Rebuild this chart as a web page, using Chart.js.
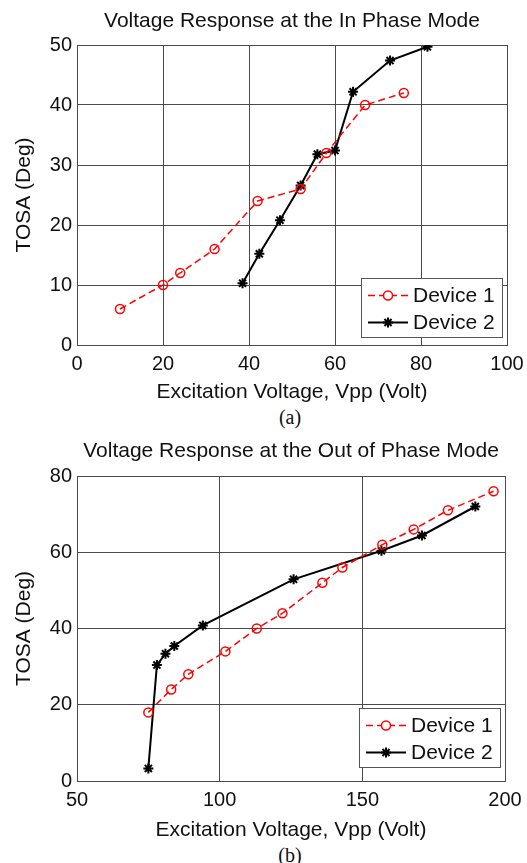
<!DOCTYPE html>
<html>
<head>
<meta charset="utf-8">
<script src="https://cdn.jsdelivr.net/npm/chart.js@4/dist/chart.umd.min.js"></script>
<style>
  html, body { margin: 0; padding: 0; background: #fff; }
  body { width: 527px; height: 863px; position: relative; overflow: hidden; }
  .wrap { position: absolute; left: 0; width: 527px; }
  .cap { position: absolute; left: 0; width: 580px; text-align: center; font-family: "Liberation Serif", "DejaVu Serif", serif; font-size: 20px; color: #111; }
</style>
</head>
<body>
<div class="wrap" style="top:0px;height:405px;"><canvas id="cA" width="527" height="405"></canvas></div>
<div class="cap" style="top:406px;">(a)</div>
<div class="wrap" style="top:430px;height:411px;"><canvas id="cB" width="527" height="411"></canvas></div>
<div class="cap" style="top:844px;">(b)</div>
<script>
// ---- Data: (a) In Phase Mode ----
const titleA = "Voltage Response at the In Phase Mode";
const dev1A_x = [10, 20, 24, 32, 42, 52, 58, 67, 76];
const dev1A_y = [6, 10, 12, 16, 24, 26, 32, 40, 42];
const dev2A_x = [38.5, 42.4, 47.2, 52, 55.9, 60, 64.2, 72.8, 81.5];
const dev2A_y = [10.3, 15.2, 20.8, 26.6, 31.8, 32.4, 42.2, 47.4, 49.7];
const xTicksA = [0, 20, 40, 60, 80, 100];
const yTicksA = [0, 10, 20, 30, 40, 50];

// ---- Data: (b) Out of Phase Mode ----
const titleB = "Voltage Response at the Out of Phase Mode";
const dev1B_x = [75, 83, 89, 102, 113, 122, 136, 143, 157, 168, 180, 196];
const dev1B_y = [18, 24, 28, 34, 40, 44, 52, 56, 62, 66, 71, 76];
const dev2B_x = [75, 78, 81, 84.1, 94.1, 125.9, 156.7, 170.9, 189.6];
const dev2B_y = [3.3, 30.4, 33.4, 35.4, 40.8, 52.9, 60.4, 64.4, 72];
const xTicksB = [50, 100, 150, 200];
const yTicksB = [0, 20, 40, 60, 80];

const seriesNames = ["Device 1", "Device 2"];
const xLabel = "Excitation Voltage, Vpp (Volt)";
const yLabel = "TOSA (Deg)";

const FONT = "'Liberation Sans', Arial, sans-serif";
const GRID = "#4a4a4a";

function pts(xs, ys) { return xs.map((x, i) => ({ x: x, y: ys[i] })); }

const legendBox = {
  id: 'legendBox',
  afterDatasetsDraw(chart, args, opts) {
    const ctx = chart.ctx, ca = chart.chartArea;
    const w = 141, h = 59;
    const x0 = ca.right - opts.dr - w, y0 = ca.bottom - opts.db - h;
    ctx.save();
    ctx.fillStyle = '#fff';
    ctx.fillRect(x0, y0, w, h);
    ctx.strokeStyle = '#555';
    ctx.lineWidth = 1;
    ctx.setLineDash([]);
    ctx.strokeRect(x0 + 0.5, y0 + 0.5, w, h);
    chart.data.datasets.forEach((ds, i) => {
      const cy = y0 + 17.5 + i * 27;
      ctx.save();
      ctx.strokeStyle = ds.borderColor;
      ctx.lineWidth = ds.borderWidth;
      ctx.setLineDash(ds.borderDash || []);
      ctx.beginPath();
      ctx.moveTo(x0 + 7, cy);
      ctx.lineTo(x0 + 47, cy);
      ctx.stroke();
      ctx.setLineDash([]);
      Chart.helpers.drawPoint(ctx, {
        pointStyle: ds.pointStyle, radius: ds.pointRadius, borderWidth: ds.pointBorderWidth, rotation: 0
      }, x0 + 27, cy);
      ctx.restore();
      ctx.fillStyle = '#111';
      ctx.font = '21px ' + FONT;
      ctx.textBaseline = 'middle';
      ctx.textAlign = 'left';
      ctx.fillText(ds.label, x0 + 52, cy + 1);
    });
    ctx.restore();
  }
};

function makeChart(id, title, d1, d2, xTicks, yTicks, padRight, legendOff, titleBottom, xTitleBottom) {
  const xmin = xTicks[0], xmax = xTicks[xTicks.length - 1];
  const ymin = yTicks[0], ymax = yTicks[yTicks.length - 1];
  return new Chart(document.getElementById(id), {
    type: 'scatter',
    data: {
      datasets: [
        {
          label: seriesNames[0], data: d1, showLine: true,
          borderColor: '#ff0000', backgroundColor: 'rgba(0,0,0,0)',
          borderWidth: 1.5, borderDash: [7, 4],
          pointStyle: 'circle', pointRadius: 4.5, pointBorderWidth: 1.5,
          pointBorderColor: '#ff0000', pointBackgroundColor: 'rgba(0,0,0,0)'
        },
        {
          label: seriesNames[1], data: d2, showLine: true,
          borderColor: '#000000', backgroundColor: '#000000',
          borderWidth: 2,
          pointStyle: 'star', pointRadius: 5, pointBorderWidth: 2,
          pointBorderColor: '#000000', pointBackgroundColor: '#000000'
        }
      ]
    },
    options: {
      responsive: false,
      animation: false,
      devicePixelRatio: 1,
      layout: { padding: { left: 0, right: padRight, top: 0, bottom: 0 } },
      plugins: {
        legend: { display: false },
        tooltip: { enabled: false },
        title: {
          display: true, text: title, color: '#111', fullSize: false,
          font: { family: FONT, size: 21, weight: 'normal' },
          padding: { top: 9, bottom: titleBottom }
        },
        legendBox: legendOff
      },
      scales: {
        x: {
          type: 'linear', min: xmin, max: xmax,
          afterBuildTicks: s => { s.ticks = xTicks.map(v => ({ value: v })); },
          afterFit: s => { s.height = 60; s.paddingLeft = 0; s.paddingRight = 0; },
          grid: { color: GRID, lineWidth: 1, drawTicks: false },
          border: { color: GRID },
          ticks: { color: '#111', font: { family: FONT, size: 20 }, padding: 7, maxRotation: 0 },
          title: { display: true, text: xLabel, color: '#111', font: { family: FONT, size: 21 }, padding: { top: 0, bottom: xTitleBottom } }
        },
        y: {
          type: 'linear', min: ymin, max: ymax,
          afterBuildTicks: s => { s.ticks = yTicks.map(v => ({ value: v })); },
          afterFit: s => { s.width = 77; s.paddingTop = 0; s.paddingBottom = 0; },
          grid: { color: GRID, lineWidth: 1, drawTicks: false },
          border: { color: GRID },
          ticks: { color: '#111', font: { family: FONT, size: 20 }, padding: 5 },
          title: { display: true, text: yLabel, color: '#111', font: { family: FONT, size: 21 }, padding: { top: 12, bottom: 0 } }
        }
      }
    },
    plugins: [legendBox]
  });
}

makeChart('cA', titleA, pts(dev1A_x, dev1A_y), pts(dev2A_x, dev2A_y), xTicksA, yTicksA, 20, { dr: 5, db: 8 }, 10.8, 0);
makeChart('cB', titleB, pts(dev1B_x, dev1B_y), pts(dev2B_x, dev2B_y), xTicksB, yTicksB, 22, { dr: 5, db: 14 }, 11.8, -2);
</script>
</body>
</html>
